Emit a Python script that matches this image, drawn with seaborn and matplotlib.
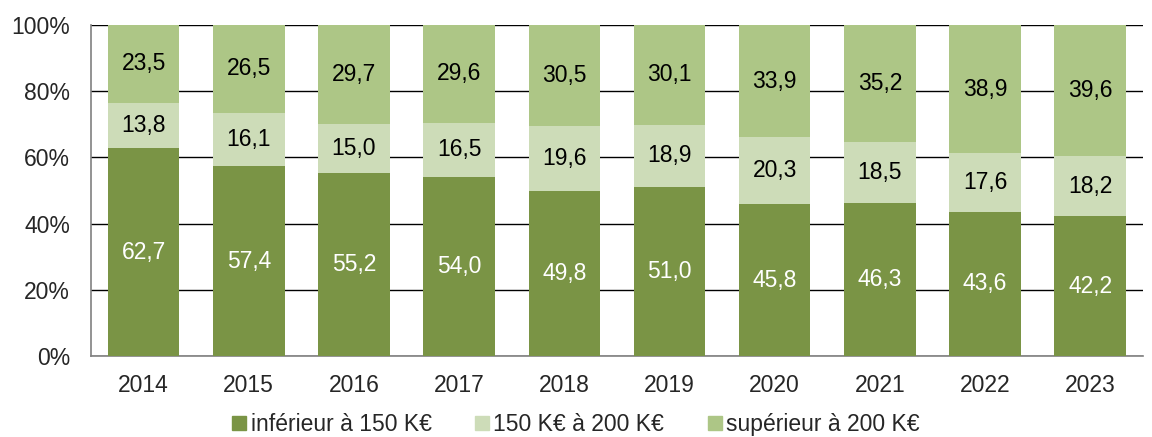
import numpy as np
import pandas as pd
import matplotlib
matplotlib.use("Agg")
import matplotlib.pyplot as plt
import seaborn as sns
from matplotlib.patches import Patch

# data
years = ["2014", "2015", "2016", "2017", "2018", "2019", "2020", "2021", "2022", "2023"]
inf_150 = [62.7, 57.4, 55.2, 54.0, 49.8, 51.0, 45.8, 46.3, 43.6, 42.2]
mid_150_200 = [13.8, 16.1, 15.0, 16.5, 19.6, 18.9, 20.3, 18.5, 17.6, 18.2]
sup_200 = [23.5, 26.5, 29.7, 29.6, 30.5, 30.1, 33.9, 35.2, 38.9, 39.6]
labels = ["inférieur à 150 K€", "150 K€ à 200 K€", "supérieur à 200 K€"]
colors = ["#7A9445", "#CDDCB8", "#ADC686"]

sns.set_style("white")
plt.rcParams["font.family"] = ["Liberation Sans", "DejaVu Sans"]
FS = 16.5

df = pd.DataFrame({"year": years, "low": inf_150, "mid": mid_150_200, "high": sup_200})
df["c1"] = df["low"]
df["c2"] = df["low"] + df["mid"]
df["c3"] = df["c2"] + df["high"]

fig = plt.figure(figsize=(11.52, 4.37), dpi=100)
ax = fig.add_axes([0.079, 0.185, 0.913, 0.758])

# stacked bars drawn as cumulative layers
for col, c in zip(["c3", "c2", "c1"], [colors[2], colors[1], colors[0]]):
    sns.barplot(data=df, x="year", y=col, color=c, width=0.68, saturation=1,
                linewidth=0, ax=ax, zorder=3)

def fmt(v):
    return f"{v:.1f}".replace(".", ",")

for i in range(len(years)):
    ax.text(i, df["low"][i] / 2, fmt(inf_150[i]),
            ha="center", va="center", color="white", fontsize=FS, zorder=5)
    ax.text(i, df["c1"][i] + mid_150_200[i] / 2, fmt(mid_150_200[i]),
            ha="center", va="center", color="black", fontsize=FS, zorder=5)
    ax.text(i, df["c2"][i] + sup_200[i] / 2, fmt(sup_200[i]),
            ha="center", va="center", color="black", fontsize=FS, zorder=5)

ax.set_ylim(0, 100)
ax.set_xlim(-0.5, len(years) - 0.5)
ax.set_yticks([0, 20, 40, 60, 80, 100])
ax.set_yticklabels([f"{v}%" for v in range(0, 101, 20)], fontsize=FS)
ax.tick_params(axis="x", labelsize=FS, length=0, pad=13)
ax.tick_params(axis="y", length=0, pad=15)
ax.set_xticks(np.arange(-0.5, len(years), 1), minor=True)
ax.tick_params(axis="x", which="minor", length=5, color="#808080", direction="out")
ax.set_xlabel("")
ax.set_ylabel("")

ax.grid(axis="y", color="black", linewidth=1, zorder=0)
ax.set_axisbelow(True)
for s in ["top", "right"]:
    ax.spines[s].set_visible(False)
for s in ["left", "bottom"]:
    ax.spines[s].set_color("#808080")
    ax.spines[s].set_linewidth(1.2)

handles = [Patch(color=c, label=l) for c, l in zip(colors, labels)]
fig.legend(handles=handles, loc="lower center", bbox_to_anchor=(0.5, -0.045), ncol=3,
           frameon=False, fontsize=FS, handlelength=0.6, handleheight=0.6,
           handletextpad=0.2, columnspacing=1.9)

fig.savefig("out.png", dpi=100)
